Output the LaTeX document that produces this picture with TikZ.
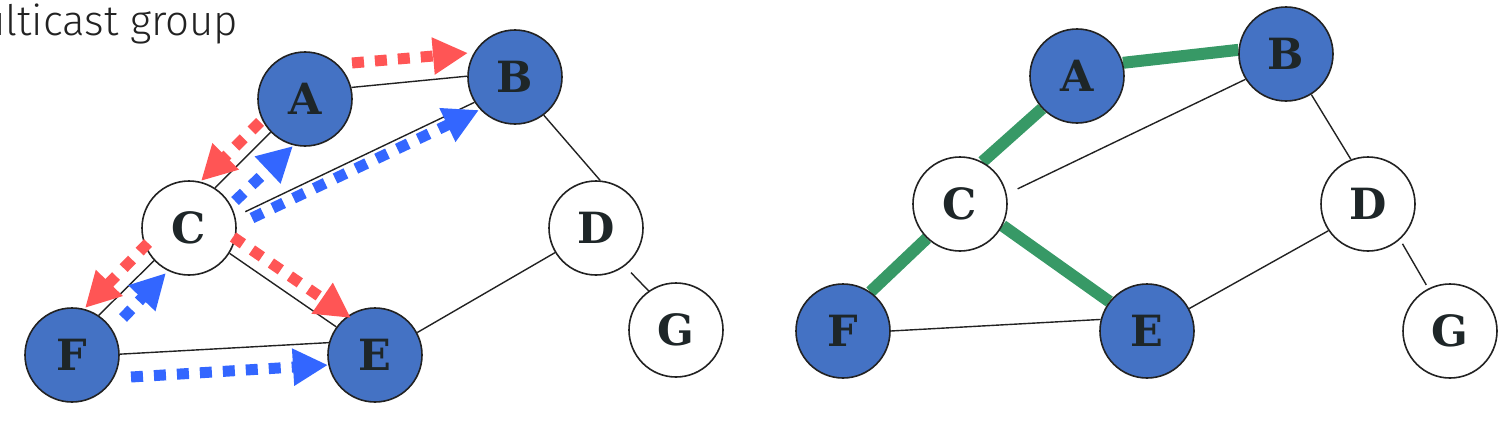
\documentclass[tikz,border=0pt]{standalone}
\usepackage{fontspec}
\newfontfamily\nodefont{DejaVu Serif}
\newfontfamily\titlefont{Fira Sans Light}
\usetikzlibrary{arrows.meta,backgrounds}
\definecolor{nodeblue}{HTML}{4472C4}
\definecolor{edgegray}{HTML}{222222}
\definecolor{arrowred}{HTML}{FF5555}
\definecolor{arrowblue}{HTML}{3366FF}
\definecolor{treegreen}{HTML}{379966}
\definecolor{labelc}{HTML}{1E2628}
\begin{document}
\begin{tikzpicture}[x=1pt,y=-1pt,
  vertex/.style={circle, draw=edgegray, line width=1.6pt, minimum size=94pt, inner sep=0pt,
    font=\nodefont\bfseries\fontsize{43}{43}\selectfont, text=labelc},
  member/.style={vertex, fill=nodeblue},
  other/.style={vertex, fill=white},
  link/.style={draw=edgegray, line width=1.4pt},
  treelink/.style={draw=treegreen, line width=12pt},
  flow/.style={line width=11pt, dash pattern=on 12pt off 11pt,
    -{Triangle[length=35pt,width=35pt]}},
  redflow/.style={flow, draw=arrowred},
  blueflow/.style={flow, draw=arrowblue}
]
\useasboundingbox (0,0) rectangle (1508,423);

% title
\node[anchor=base west, inner sep=0pt, text=edgegray,
  font=\titlefont\fontsize{42}{42}\selectfont] (title) at (-19,35) {ulticast group};

% left graph
\node[member] (lA) at (305,99) {A};
\node[member] (lB) at (515,77) {B};
\node[other]  (lC) at (189,228) {C};
\node[other]  (lD) at (596,228) {D};
\node[member] (lE) at (375,355) {E};
\node[member] (lF) at (72,355) {F};
\node[other]  (lG) at (676,330) {G};

% right graph
\node[member] (rA) at (1077,76) {A};
\node[member] (rB) at (1286,54) {B};
\node[other]  (rC) at (960,204) {C};
\node[other]  (rD) at (1368,204) {D};
\node[member] (rE) at (1147,331) {E};
\node[member] (rF) at (843,331) {F};
\node[other]  (rG) at (1450,331) {G};

\begin{pgfonlayer}{background}
\draw[link] (lA.14) -- (lB.179);
\draw[link] (lA.224) -- (lC.57);
\draw[link, shorten <=11pt] (lC.14) -- (lB.212);
\draw[link] (lB.-53) -- (lD.85);
\draw[link] (lC.-32) -- (lE.144);
\draw[link] (lC.223) -- (lF.56);
\draw[link] (lF.1) -- (lE.165);
\draw[link] (lE.28) -- (lD.211);
\draw[link, shorten <=9pt, shorten >=-7pt] (lD.-53) -- (lG.125);

\draw[treelink] (rA.16) -- (rB.175);
\draw[treelink] (rA.223) -- (rC.62);
\draw[treelink] (rC.226) -- (rF.55);
\draw[treelink] (rC.-27) -- (rE.142);
\draw[link, shorten <=12pt] (rC.12) -- (rB.212);
\draw[link] (rB.-58) -- (rD.111);
\draw[link] (rD.214) -- (rE.28);
\draw[link, shorten <=5pt, shorten >=4pt] (rD.-48) -- (rG.117);
\draw[link] (rF.0) -- (rE.166);
\end{pgfonlayer}

% multicast flows (left)
\coordinate (rABs) at (352,63);  \coordinate (rABt) at (468,53);
\coordinate (rACs) at (260,122); \coordinate (rACt) at (201,181);
\coordinate (bCAs) at (235,201); \coordinate (bCAt) at (293,146);
\coordinate (bCBs) at (252,218); \coordinate (bCBt) at (479,110);
\coordinate (rCEs) at (233,237); \coordinate (rCEt) at (351,318);
\coordinate (rCFs) at (148,243); \coordinate (rCFt) at (85,308);
\coordinate (bFCs) at (123,318); \coordinate (bFCt) at (166,273);
\coordinate (bFEs) at (131,377); \coordinate (bFEt) at (328,365);

\draw[redflow] (rABs) -- (rABt);
\draw[redflow] (rACs) -- (rACt);
\draw[blueflow] (bCAs) -- (bCAt);
\draw[blueflow] (bCBs) -- (bCBt);
\draw[redflow] (rCEs) -- (rCEt);
\draw[redflow] (rCFs) -- (rCFt);
\draw[blueflow] (bFCs) -- (bFCt);
\draw[blueflow] (bFEs) -- (bFEt);
\end{tikzpicture}
\end{document}
